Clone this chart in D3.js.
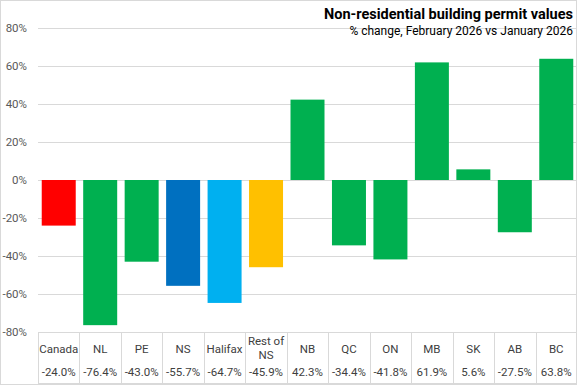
<!DOCTYPE html>
<html lang="en">
<head>
  <meta charset="utf-8">
  <script src="https://d3js.org/d3.v7.min.js"></script>
  <style>
    body { margin: 0; background: #fff; }
    text { font-family: "Liberation Sans Narrow", "Roboto", sans-serif; }
  </style>
</head>
<body>
<script type="text/javascript">
  var w = 577;
  var h = 385;

  // chart data
  var categories = ["Canada", "NL", "PE", "NS", "Halifax", "Rest of NS", "NB", "QC", "ON", "MB", "SK", "AB", "BC"];
  var values = [-24.0, -76.4, -43.0, -55.7, -64.7, -45.9, 42.3, -34.4, -41.8, 61.9, 5.6, -27.5, 63.8];
  var barColors = ["#FF0000", "#00B050", "#00B050", "#0070C0", "#00B0F0", "#FFC000", "#00B050", "#00B050", "#00B050", "#00B050", "#00B050", "#00B050", "#00B050"];
  var yTicks = [80, 60, 40, 20, 0, -20, -40, -60, -80];

  var svg = d3.select("body")
          .append("svg")
          .attr("width", w)
          .attr("height", h);

  // outer border
  svg.append("rect")
    .attr("x", 0.5).attr("y", 0.5)
    .attr("width", w - 1).attr("height", h - 1)
    .attr("fill", "none")
    .attr("stroke", "#d9d9d9");

  var x = d3.scaleBand()
          .domain(categories)
          .range([38, 577])
          .paddingInner(0.18)
          .paddingOuter(0.09);

  var y = d3.scaleLinear()
          .domain([-80, 80])
          .range([332, 28]);

  // gridlines
  svg.append("g")
    .selectAll("line")
    .data(yTicks)
    .join("line")
    .attr("x1", 38).attr("x2", 577)
    .attr("y1", function(d) { return Math.round(y(d)) + 0.5; })
    .attr("y2", function(d) { return Math.round(y(d)) + 0.5; })
    .attr("stroke", "#d9d9d9")
    .attr("stroke-width", 1);

  // y labels
  svg.append("g")
    .selectAll("text")
    .data(yTicks)
    .join("text")
    .attr("x", 27)
    .attr("y", function(d) { return y(d) + 4; })
    .attr("text-anchor", "end")
    .attr("font-size", 11.5)
    .attr("fill", "#595959")
    .text(function(d) { return d + "%"; });

  // bars
  svg.append("g")
    .selectAll("rect")
    .data(values)
    .join("rect")
    .attr("x", function(d, i) { return x(categories[i]); })
    .attr("width", x.bandwidth())
    .attr("y", function(d) { return y(Math.max(0, d)); })
    .attr("height", function(d) { return Math.abs(y(d) - y(0)); })
    .attr("fill", function(d, i) { return barColors[i]; });

  // data table below
  var step = x.step();
  var left = 38;
  var table = svg.append("g");
  var cols = d3.range(categories.length + 1);
  table.selectAll("line.v")
    .data(cols)
    .join("line")
    .attr("class", "v")
    .attr("x1", function(i) { return Math.round(left + i * step) + 0.5; })
    .attr("x2", function(i) { return Math.round(left + i * step) + 0.5; })
    .attr("y1", 332).attr("y2", 383)
    .attr("stroke", "#d9d9d9");
  table.append("line")
    .attr("x1", left).attr("x2", 577)
    .attr("y1", 383.5).attr("y2", 383.5)
    .attr("stroke", "#d9d9d9");

  table.selectAll("text.cat")
    .data(categories)
    .join("text")
    .attr("class", "cat")
    .attr("x", function(d) { return x(d) + x.bandwidth() / 2; })
    .attr("y", 353)
    .attr("text-anchor", "middle")
    .attr("font-size", 11.5)
    .attr("fill", "#404040")
    .each(function(d) {
      var t = d3.select(this);
      if (d === "Rest of NS") {
        t.append("tspan").attr("x", t.attr("x")).attr("y", 345).text("Rest of");
        t.append("tspan").attr("x", t.attr("x")).attr("y", 359).text("NS");
      } else {
        t.text(d);
      }
    });

  table.selectAll("text.val")
    .data(values)
    .join("text")
    .attr("class", "val")
    .attr("x", function(d, i) { return x(categories[i]) + x.bandwidth() / 2; })
    .attr("y", 376)
    .attr("text-anchor", "middle")
    .attr("font-size", 11.5)
    .attr("fill", "#404040")
    .text(function(d) { return d.toFixed(1) + "%"; });

  // titles
  svg.append("text")
    .attr("x", 573).attr("y", 19)
    .attr("text-anchor", "end")
    .attr("font-size", 14.5)
    .attr("font-weight", "bold")
    .attr("fill", "#000")
    .text("Non-residential building permit values");

  svg.append("text")
    .attr("x", 573).attr("y", 35)
    .attr("text-anchor", "end")
    .attr("font-size", 12)
    .attr("fill", "#000")
    .text("% change, February 2026 vs January 2026");
</script>
</body>
</html>
